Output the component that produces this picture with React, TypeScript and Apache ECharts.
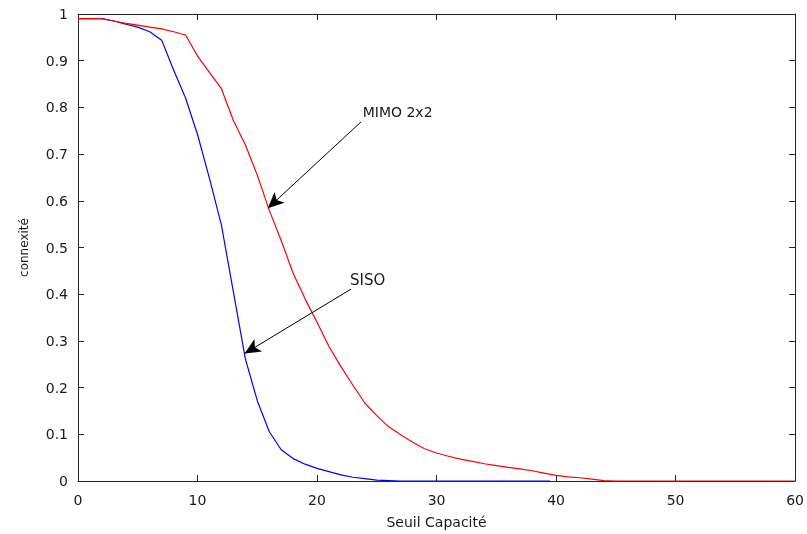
import React, { useEffect, useRef } from "react";
import * as echarts from "echarts";

// Seuil de capacité (x) and connexité values (y)
const sisoX = [0, 1, 2, 3, 4, 5, 6, 7, 8, 9, 10, 11, 12, 13, 14, 15, 16, 17, 18, 19, 20, 21, 22, 23, 24, 25, 26, 27, 28, 29, 30, 31, 32, 33, 34, 35, 36, 37, 38, 39, 39.5];
const sisoY = [0.99, 0.99, 0.99, 0.985, 0.978, 0.972, 0.962, 0.944, 0.88, 0.82, 0.742, 0.648, 0.548, 0.405, 0.262, 0.172, 0.106, 0.067, 0.048, 0.036, 0.027, 0.02, 0.013, 0.008, 0.005, 0.002, 0.001, 0, 0, 0, 0, 0, 0, 0, 0, 0, 0, 0, 0, 0, 0];

const mimoX = [0, 1, 2, 3, 4, 5, 6, 7, 8, 9, 10, 11, 12, 13, 14, 15, 16, 17, 18, 19, 20, 21, 22, 23, 24, 25, 26, 27, 28, 29, 30, 31, 32, 33, 34, 35, 36, 37, 38, 39, 40, 41, 42, 43, 44, 45, 50, 55, 60];
const mimoY = [0.99, 0.99, 0.99, 0.985, 0.98, 0.976, 0.972, 0.968, 0.962, 0.955, 0.91, 0.875, 0.84, 0.772, 0.72, 0.655, 0.58, 0.515, 0.445, 0.39, 0.34, 0.288, 0.245, 0.205, 0.167, 0.14, 0.116, 0.099, 0.083, 0.069, 0.06, 0.053, 0.047, 0.042, 0.037, 0.033, 0.029, 0.026, 0.022, 0.017, 0.012, 0.009, 0.007, 0.004, 0.001, 0, 0, 0, 0];

// Annotations: text anchor, arrow start and arrow tip in data units
const mimoLabel = "MIMO 2x2";
const mimoTextAt = [23.82, 0.791];
const mimoArrowFrom = [23.68, 0.769];
const mimoArrowTo = [15.88, 0.584];

const sisoLabel = "SISO";
const sisoTextAt = [22.76, 0.43];
const sisoArrowFrom = [22.85, 0.411];
const sisoArrowTo = [13.94, 0.273];

const X_MIN = 0, X_MAX = 60, X_STEP = 10;
const Y_MIN = 0, Y_MAX = 1, Y_STEP = 0.1;

const FONT = "DejaVu Sans";
const AXIS_COLOR = "#262626";
const TEXT_COLOR = "#1a1a1a";

function zip(xs: number[], ys: number[]) {
  return xs.map((x, i) => [x, ys[i]]);
}

function axisLine() {
  return { show: true, onZero: false, lineStyle: { color: AXIS_COLOR, width: 1 } };
}
function axisTick() {
  return { show: true, inside: true, length: 6, lineStyle: { color: AXIS_COLOR, width: 1 } };
}

export default function App() {
  const ref = useRef<HTMLDivElement>(null);

  useEffect(() => {
    if (!ref.current) return;
    const chart = echarts.init(ref.current, null, { renderer: "svg" });

    const arrow = (from: number[], to: number[]) => ({
      silent: true,
      symbol: ["none", "arrow"],
      symbolSize: [11, 16],
      lineStyle: { color: "#000", width: 1, type: "solid" },
      label: { show: false },
      data: [[{ coord: from }, { coord: to }]],
    });
    const textMark = (at: number[], txt: string, size: number) => ({
      silent: true,
      symbol: "rect",
      symbolSize: 0,
      label: {
        show: true,
        position: "right",
        distance: 0,
        formatter: txt,
        color: TEXT_COLOR,
        fontSize: size,
        fontFamily: FONT,
      },
      data: [{ coord: at }],
    });

    chart.setOption({
      animation: false,
      grid: { left: 78, right: 10, top: 14, bottom: 53 },
      xAxis: [
        {
          type: "value",
          min: X_MIN,
          max: X_MAX,
          interval: X_STEP,
          name: "Seuil Capacité",
          nameLocation: "middle",
          nameGap: 34,
          nameTextStyle: { color: TEXT_COLOR, fontSize: 14, fontFamily: FONT },
          axisLine: axisLine(),
          axisTick: axisTick(),
          axisLabel: { color: TEXT_COLOR, fontSize: 14, fontFamily: FONT, margin: 12 },
          splitLine: { show: false },
        },
        {
          type: "value",
          position: "top",
          min: X_MIN,
          max: X_MAX,
          interval: X_STEP,
          axisLine: axisLine(),
          axisTick: axisTick(),
          axisLabel: { show: false },
          splitLine: { show: false },
        },
      ],
      yAxis: [
        {
          type: "value",
          min: Y_MIN,
          max: Y_MAX,
          interval: Y_STEP,
          name: "connexité",
          nameLocation: "middle",
          nameGap: 48,
          nameTextStyle: { color: TEXT_COLOR, fontSize: 12, fontFamily: FONT },
          axisLine: axisLine(),
          axisTick: axisTick(),
          axisLabel: { color: TEXT_COLOR, fontSize: 14, fontFamily: FONT, margin: 10 },
          splitLine: { show: false },
        },
        {
          type: "value",
          position: "right",
          min: Y_MIN,
          max: Y_MAX,
          interval: Y_STEP,
          axisLine: axisLine(),
          axisTick: axisTick(),
          axisLabel: { show: false },
          splitLine: { show: false },
        },
      ],
      series: [
        {
          name: "SISO",
          type: "line",
          data: zip(sisoX, sisoY),
          showSymbol: false,
          symbol: "none",
          lineStyle: { color: "#0000ff", width: 1.2 },
          itemStyle: { color: "#0000ff" },
          markLine: arrow(sisoArrowFrom, sisoArrowTo),
          markPoint: textMark(sisoTextAt, sisoLabel, 15),
        },
        {
          name: "MIMO 2x2",
          type: "line",
          data: zip(mimoX, mimoY),
          showSymbol: false,
          symbol: "none",
          lineStyle: { color: "#ff0000", width: 1.2 },
          itemStyle: { color: "#ff0000" },
          markLine: arrow(mimoArrowFrom, mimoArrowTo),
          markPoint: textMark(mimoTextAt, mimoLabel, 14),
        },
        {
          type: "line",
          xAxisIndex: 1,
          yAxisIndex: 1,
          data: [],
          silent: true,
        },
      ],
    });

    return () => chart.dispose();
  }, []);

  return <div ref={ref} style={{ position: "fixed", left: 0, top: 0, width: 807, height: 534 }} />;
}
